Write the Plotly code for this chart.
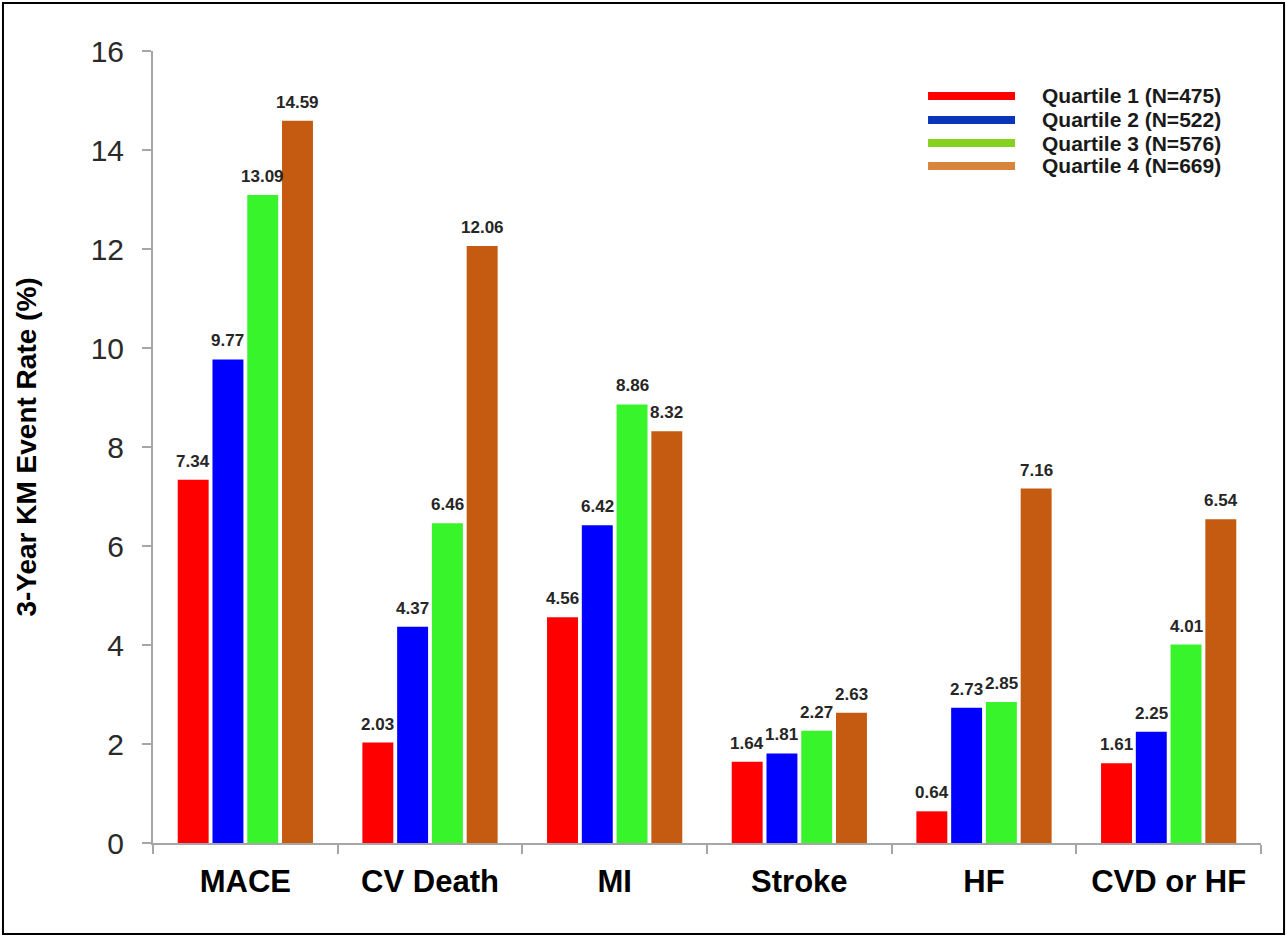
import plotly.graph_objects as go

categories = ["MACE", "CV Death", "MI", "Stroke", "HF", "CVD or HF"]
q1 = [7.34, 2.03, 4.56, 1.64, 0.64, 1.61]
q2 = [9.77, 4.37, 6.42, 1.81, 2.73, 2.25]
q3 = [13.09, 6.46, 8.86, 2.27, 2.85, 4.01]
q4 = [14.59, 12.06, 8.32, 2.63, 7.16, 6.54]
series_names = ["Quartile 1 (N=475)", "Quartile 2 (N=522)", "Quartile 3 (N=576)", "Quartile 4 (N=669)"]
y_ticks = [0, 2, 4, 6, 8, 10, 12, 14, 16]

bar_colors = ["#FF0000", "#0000FF", "#38F42A", "#C55A11"]
legend_colors = ["#FF0000", "#0A35B8", "#86D11E", "#D9843C"]
FONT = "Liberation Sans, Arial, sans-serif"

W, H = 1286, 937
ML, MR, MT, MB = 153, 25, 51, 94
BARGAP, BARGROUPGAP = 0.247, 0.11
cat_px = (W - ML - MR) / len(categories)
slot_px = cat_px * (1 - BARGAP) / 4

fig = go.Figure()
for i, (name, vals, col) in enumerate(zip(series_names, [q1, q2, q3, q4], bar_colors)):
    fig.add_trace(go.Bar(
        x=categories, y=vals, name=name, marker_color=col, marker_line_width=0,
        showlegend=False,
    ))
    for c, v in zip(categories, vals):
        fig.add_annotation(
            x=c, y=v, text=f"<b>{v:.2f}</b>", showarrow=False,
            xanchor="center", yanchor="bottom",
            xshift=(i - 1.5) * slot_px, yshift=7,
            font=dict(family=FONT, size=17, color="#262626"),
        )

# legend drawn as line swatches + labels
legend_y = [0.9432, 0.9129, 0.8838, 0.8548]
for name, col, ly in zip(series_names, legend_colors, legend_y):
    fig.add_shape(type="line", xref="paper", yref="paper", x0=0.6995, x1=0.778,
                  y0=ly, y1=ly, line=dict(color=col, width=8))
    fig.add_annotation(xref="paper", yref="paper", x=0.8005, y=ly, text=f"<b>{name}</b>",
                       showarrow=False, xanchor="left", yanchor="middle",
                       font=dict(family=FONT, size=21, color="#1a1a1a"))

# outer frame
fig.add_shape(type="rect", xref="paper", yref="paper",
              x0=-0.1354, x1=1.0208, y0=-0.1149, y1=1.0606,
              line=dict(color="#000000", width=2), fillcolor="rgba(0,0,0,0)", layer="below")

fig.update_layout(
    width=W, height=H,
    margin=dict(l=ML, r=MR, t=MT, b=MB),
    paper_bgcolor="white", plot_bgcolor="white",
    barmode="group", bargap=BARGAP, bargroupgap=BARGROUPGAP,
    font=dict(family=FONT, color="#222222"),
    xaxis=dict(
        showline=True, linecolor="#A6A6A6", linewidth=2,
        ticks="outside", tickson="boundaries", ticklen=9, tickcolor="#A6A6A6", tickwidth=2,
        tickfont=dict(family=FONT, size=31, color="#000000", weight="bold"),
        ticklabelstandoff=10,
        showgrid=False, zeroline=False,
    ),
    yaxis=dict(
        range=[0, 16], tickvals=y_ticks, ticktext=[str(t) for t in y_ticks],
        showline=True, linecolor="#A6A6A6", linewidth=2,
        ticks="outside", ticklen=9, tickcolor="#A6A6A6", tickwidth=2,
        tickfont=dict(family=FONT, size=30, color="#2a2a2a"),
        ticklabelstandoff=12,
        showgrid=False, zeroline=False,
        title=dict(text="<b>3-Year KM Event Rate (%)</b>", standoff=46,
                   font=dict(family=FONT, size=28, color="#000000")),
    ),
)

fig.write_html("out.html", config={"displayModeBar": False},
               post_script="document.body.style.margin='0';")
